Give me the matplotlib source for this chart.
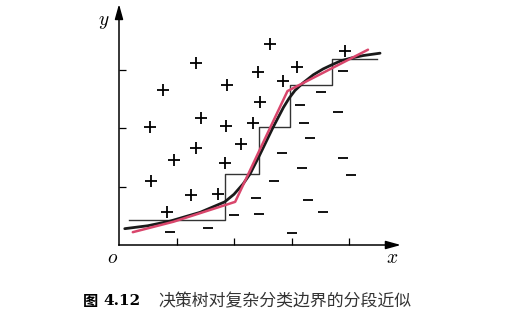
import numpy as np
import matplotlib
matplotlib.use('Agg')
import matplotlib.pyplot as plt

plt.rcParams['mathtext.fontset'] = 'cm'

# positive samples (+)
pos_x = [2.63, 1.34, 2.42, 3.10, 3.93, 0.76, 1.88, 2.85, 2.45, 0.54, 1.42,
         1.86, 2.33, 1.34, 2.13, 0.96, 1.84, 0.56, 1.25, 1.73, 0.83]
pos_y = [3.45, 3.13, 2.97, 3.05, 3.33, 2.66, 2.74, 2.82, 2.45, 2.02, 2.18,
         2.04, 2.10, 1.66, 1.73, 1.45, 1.41, 1.10, 0.86, 0.88, 0.56]

# negative samples (-)
neg_x = [3.90, 3.51, 3.14, 3.81, 3.21, 3.32, 2.83, 3.90, 3.18, 4.04,
         2.70, 2.38, 3.29, 3.55, 2.00, 2.44, 1.55, 0.89, 3.00]
neg_y = [2.99, 2.63, 2.40, 2.28, 2.10, 1.83, 1.58, 1.50, 1.32, 1.20,
         1.10, 0.80, 0.78, 0.56, 0.52, 0.53, 0.29, 0.23, 0.20]

# true boundary (smooth black curve)
true_x = [0.10, 0.50, 0.89, 1.41, 1.84, 2.00, 2.16, 2.28, 2.45, 2.68,
          2.86, 2.96, 3.06, 3.20, 3.38, 3.55, 3.70, 3.86, 4.05, 4.25, 4.54]
true_y = [0.28, 0.33, 0.41, 0.56, 0.74, 0.87, 1.05, 1.22, 1.55, 2.02,
          2.36, 2.52, 2.65, 2.78, 2.92, 3.02, 3.09, 3.16, 3.21, 3.25, 3.29]

# decision tree boundary (axis-parallel steps)
step_x = [0.18, 1.84, 1.84, 2.44, 2.44, 2.97, 2.97, 3.70, 3.70, 4.48]
step_y = [0.43, 0.43, 1.22, 1.22, 2.02, 2.02, 2.74, 2.74, 3.19, 3.19]

# multivariate tree boundary (oblique pieces)
obl_x = [0.24, 0.95, 2.02, 2.93, 4.33]
obl_y = [0.22, 0.40, 0.74, 2.64, 3.35]

W, H = 509, 327
fig = plt.figure(figsize=(W / 100, H / 100), dpi=100)
ax = fig.add_axes([0, 0, 1, 1])

ox, oy = 119, 245      # pixel position of origin
ux, uy = 57.5, 58.3    # pixels per unit
ax.set_xlim(-ox / ux, (W - ox) / ux)
ax.set_ylim(-(H - oy) / uy, oy / uy)

for s in ['top', 'right']:
    ax.spines[s].set_visible(False)
ax.spines['left'].set_position(('data', 0))
ax.spines['bottom'].set_position(('data', 0))
ax.spines['bottom'].set_bounds(0, 4.8)
ax.spines['left'].set_bounds(0, 4.0)
for s in ['left', 'bottom']:
    ax.spines[s].set_linewidth(1.1)
ax.set_xticks([1, 2, 3, 4])
ax.set_yticks([1, 2, 3])
ax.tick_params(direction='in', length=5, width=0.9, labelbottom=False, labelleft=False)

# arrow heads
ax.annotate('', xy=(4.95, 0), xytext=(4.6, 0),
            arrowprops=dict(arrowstyle='-|>,head_length=0.9,head_width=0.25', color='black', lw=1.1))
ax.annotate('', xy=(0, 4.18), xytext=(0, 3.9),
            arrowprops=dict(arrowstyle='-|>,head_length=0.9,head_width=0.25', color='black', lw=1.1))

ax.text(-0.27, 3.83, '$y$', fontsize=14, ha='center', va='center')
ax.text(4.75, -0.22, '$x$', fontsize=14, ha='center', va='center')
ax.text(-0.12, -0.22, '$o$', fontsize=14, ha='center', va='center')

ax.plot(step_x, step_y, color='#333333', lw=1.0)
ax.plot(true_x, true_y, color='#1a1a1a', lw=2.0, solid_capstyle='round', solid_joinstyle='round')
ax.plot(obl_x, obl_y, color='#d9466c', lw=1.8, solid_capstyle='round')

ax.plot(pos_x, pos_y, '+', color='black', ms=8, mew=1.3)
ax.plot(neg_x, neg_y, '_', color='black', ms=7.5, mew=1.3)

# caption
fig.text(83 / W, 1 - 301 / H, '图', fontsize=11, fontweight='bold',
         family='Noto Sans CJK SC', ha='left', va='center')
fig.text(103 / W, 1 - 301 / H, '4.12', fontsize=11, fontweight='bold',
         family='DejaVu Serif', ha='left', va='center')
fig.text(158 / W, 1 - 301 / H, '决策树对复杂分类边界的分段近似', fontsize=12.2,
         family='Noto Sans CJK SC', color='#333333', ha='left', va='center')

fig.savefig('out.png', dpi=100)
